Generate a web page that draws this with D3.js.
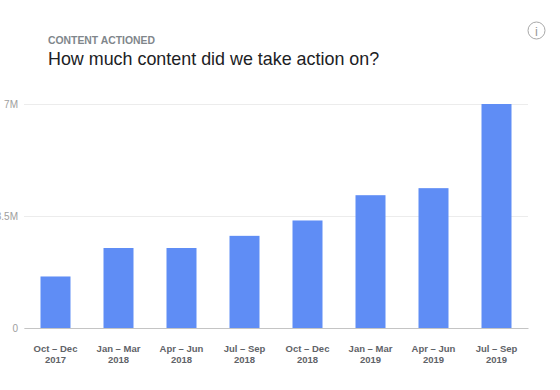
<!DOCTYPE html>
<html>
<head>
<meta charset="utf-8">
<script src="https://cdn.jsdelivr.net/npm/d3@7"></script>
<style>
    html, body { margin: 0; padding: 0; background: #fff; overflow: hidden; }
    svg { display: block; font-family: "Liberation Sans", Arial, sans-serif; }
</style>
</head>
<body>
<div id="vis-container"></div>
<script>
// Data
const quarters = ["Oct – Dec", "Jan – Mar", "Apr – Jun", "Jul – Sep", "Oct – Dec", "Jan – Mar", "Apr – Jun", "Jul – Sep"];
const years = ["2017", "2018", "2018", "2018", "2018", "2019", "2019", "2019"];
const actioned = [1.61, 2.5, 2.5, 2.88, 3.36, 4.15, 4.37, 7];
const yTicks = [0, 3.5, 7];
const yTickLabels = ["0", "3.5M", "7M"];

let width = 560;
let height = 390;
let margins = { top: 104, right: 32, bottom: 62, left: 24 };
let visWidth = width - margins.left - margins.right;
let visHeight = height - margins.top - margins.bottom;

let svg = d3.select("#vis-container").append("svg").attr("width", width).attr("height", height);
let viewport = svg.append("g").attr("transform", "translate(" + margins.left + "," + margins.top + ")");

// Heading
svg.append("text").attr("x", 48).attr("y", 44)
    .style("font-size", "10.4px").style("font-weight", "bold").attr("fill", "#80868b")
    .text("CONTENT ACTIONED");
svg.append("text").attr("x", 48).attr("y", 65)
    .style("font-size", "17.9px").attr("fill", "#202124")
    .text("How much content did we take action on?");

// Info icon
let info = svg.append("g").attr("transform", "translate(536.5,30.5)");
info.append("circle").attr("r", 8.5).attr("fill", "none").attr("stroke", "#a8a8a8").attr("stroke-width", 1);
info.append("text").attr("text-anchor", "middle").attr("y", 5)
    .style("font-size", "13px").attr("fill", "#9a9a9a").text("i");

const xScale = d3.scaleBand().domain(d3.range(quarters.length)).range([0, visWidth]);
const yScale = d3.scaleLinear().domain([0, 7]).range([visHeight, 0]);
const barWidth = 30;

// Grid lines and value labels
let yAxis = viewport.append("g")
    .call(d3.axisLeft(yScale).tickValues(yTicks).tickSize(-visWidth).tickFormat((d, i) => yTickLabels[i]));
yAxis.select(".domain").remove();
yAxis.selectAll(".tick line").attr("stroke", "#ececec");
yAxis.selectAll(".tick text")
    .attr("x", -6)
    .attr("dy", "0.32em")
    .style("font-size", "10px")
    .style("font-family", "'Liberation Sans', Arial, sans-serif")
    .attr("fill", "#9e9e9e");

viewport.selectAll(".bar")
    .data(actioned)
    .enter().append("rect")
    .attr("class", "bar")
    .attr("x", (d, i) => xScale(i) + (xScale.bandwidth() - barWidth) / 2)
    .attr("y", d => yScale(d))
    .attr("width", barWidth)
    .attr("height", d => visHeight - yScale(d))
    .attr("fill", "#5f8df5");

// Baseline and two line category labels
let xAxis = viewport.append("g").attr("transform", "translate(0," + visHeight + ")")
    .call(d3.axisBottom(xScale).tickSize(0).tickSizeOuter(0).tickFormat(""));
xAxis.select(".domain").attr("stroke", "#c4c4c4");
xAxis.selectAll(".tick text").each(function (d) {
    let label = d3.select(this)
        .attr("y", 24)
        .attr("dy", 0)
        .style("font-size", "9.5px")
        .style("font-weight", "bold")
        .style("font-family", "'Liberation Sans', Arial, sans-serif")
        .attr("fill", "#5f6368");
    label.append("tspan").attr("x", 0).text(quarters[d]);
    label.append("tspan").attr("x", 0).attr("dy", 11).text(years[d]);
});
</script>
</body>
</html>
